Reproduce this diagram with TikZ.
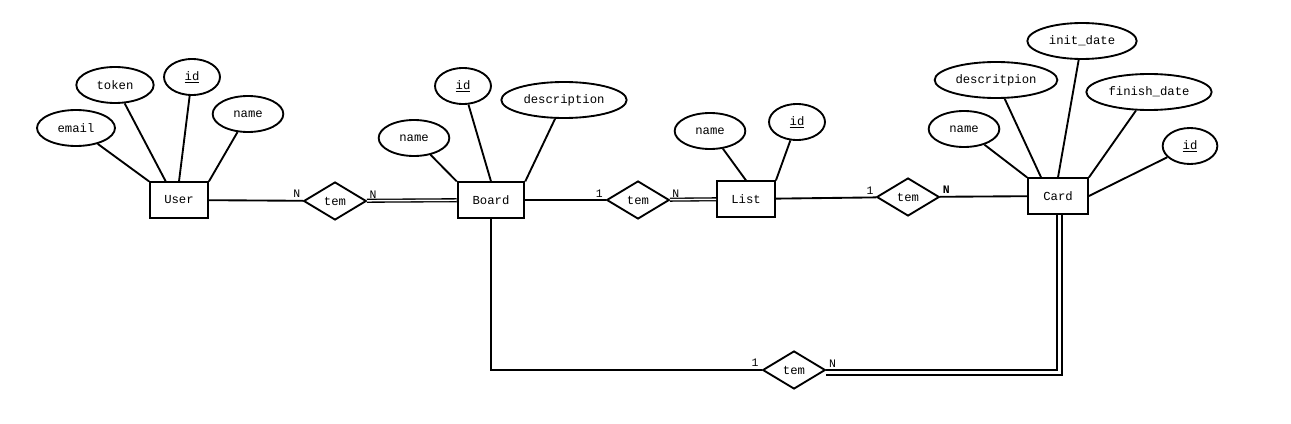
\documentclass[tikz,border=0pt]{standalone}
\usepackage{fontspec}
\setmonofont{Liberation Mono}
\usetikzlibrary{shapes.geometric}
\tikzset{%
            base/.style = {draw=black, line width=1.4pt, inner sep=0pt,
                           font=\ttfamily\fontsize{9.2}{11}\selectfont},
  entity/.style = {base, rectangle, minimum width=43.5pt, minimum height=26.5pt},
  attr/.style   = {base, ellipse, minimum width=53pt, minimum height=27pt},
  rel/.style    = {base, diamond, aspect=1.6, minimum width=47pt, minimum height=28.5pt},
  card/.style   = {font=\ttfamily\fontsize{8.6}{10}\selectfont, inner sep=1.5pt},
  link/.style   = {line width=1.4pt},
  twin/.style   = {double, line width=1pt, double distance=1.1pt},
  twinwide/.style = {double, line width=1.4pt, double distance=2.2pt},
}

\begin{document}
\begin{tikzpicture}[x=0.75pt, y=-0.75pt]
  \useasboundingbox (0,0) rectangle (1291,424);

  % entities
  \node (onUser)  [entity] at (179,200)  {User};
  \node (onBoard) [entity, minimum width=50pt] at (491,200) {Board};
  \node (onList)  [entity] at (746,199)  {List};
  \node (onCard)  [entity, minimum width=45pt] at (1058,196) {Card};

  % relationships
  \node (onTem1) [rel] at (335,201) {tem};
  \node (onTem2) [rel] at (638,200) {tem};
  \node (onTem3) [rel] at (908,197) {tem};
  \node (onTem4) [rel] at (794,370) {tem};

  % attributes of User
  \node (onUserEmail) [attr, minimum width=58.5pt] at (76,128)  {email};
  \node (onUserToken) [attr, minimum width=58pt]   at (115,85)  {token};
  \node (onUserId)    [attr, minimum width=42pt]   at (192,77)  {\underline{id}};
  \node (onUserName)  [attr]                       at (248,114) {name};

  % attributes of Board
  \node (onBoardName) [attr]                     at (414,138) {name};
  \node (onBoardId)   [attr, minimum width=42pt] at (463,86)  {\underline{id}};
  \node (onBoardDesc) [attr, minimum width=94pt] at (564,100) {description};

  % attributes of List
  \node (onListName) [attr]                     at (710,131) {name};
  \node (onListId)   [attr, minimum width=42pt] at (797,122) {\underline{id}};

  % attributes of Card
  \node (onCardName)   [attr]                     at (964,129)  {name};
  \node (onCardDesc)   [attr, minimum width=92pt] at (996,80)   {descritpion};
  \node (onCardInit)   [attr, minimum width=82pt] at (1082,41)  {init\_date};
  \node (onCardFinish) [attr, minimum width=94pt] at (1149,92)  {finish\_date};
  \node (onCardId)     [attr, minimum width=41pt] at (1190,146) {\underline{id}};

  \draw[link] (onUserEmail) -- (onUser.north west);
  \draw[link] (onUserToken) -- ([xshift=12.5pt]onUser.north west);
  \draw[link] (onUserId)    -- (onUser.north);
  \draw[link] (onUserName)  -- (onUser.north east);

  \draw[link] (onBoardName) -- (onBoard.north west);
  \draw[link] (onBoardId)   -- (onBoard.north);
  \draw[link] (onBoardDesc) -- (onBoard.north east);

  \draw[link] (onListName) -- (onList.north);
  \draw[link] (onListId)   -- (onList.north east);

  \draw[link] (onCardName)   -- (onCard.north west);
  \draw[link] (onCardDesc)   -- ([xshift=10.5pt]onCard.north west);
  \draw[link] (onCardInit)   -- (onCard.north);
  \draw[link] (onCardFinish) -- (onCard.north east);
  \draw[link] (onCardId)     -- (onCard.east);

  \draw[link] (onUser) -- (onTem1) node[card, pos=1, above left] {N};
  \draw[twin] (onTem1) -- (onBoard) node[card, pos=0, above right] {N};
  \draw[link] (onBoard) -- (onTem2) node[card, pos=1, above left] {1};
  \draw[twin] (onTem2) -- (onList) node[card, pos=0, above right] {N};
  \draw[link] (onList) -- (onTem3) node[card, pos=1, above left] {1};
  \draw[link] (onTem3) -- (onCard) node[card, pos=0, above right] {\textbf{N}};

  \draw[link, line width=1.9pt] (onBoard.south) |- (onTem4.west)
    node[card, pos=1, above left] {1};
  \draw[twinwide] ([yshift=-2pt]onTem4.east) -| ([xshift=1.2pt]onCard.south)
    node[card, pos=0, above right, yshift=2pt] {N};
\end{tikzpicture}
\end{document}
